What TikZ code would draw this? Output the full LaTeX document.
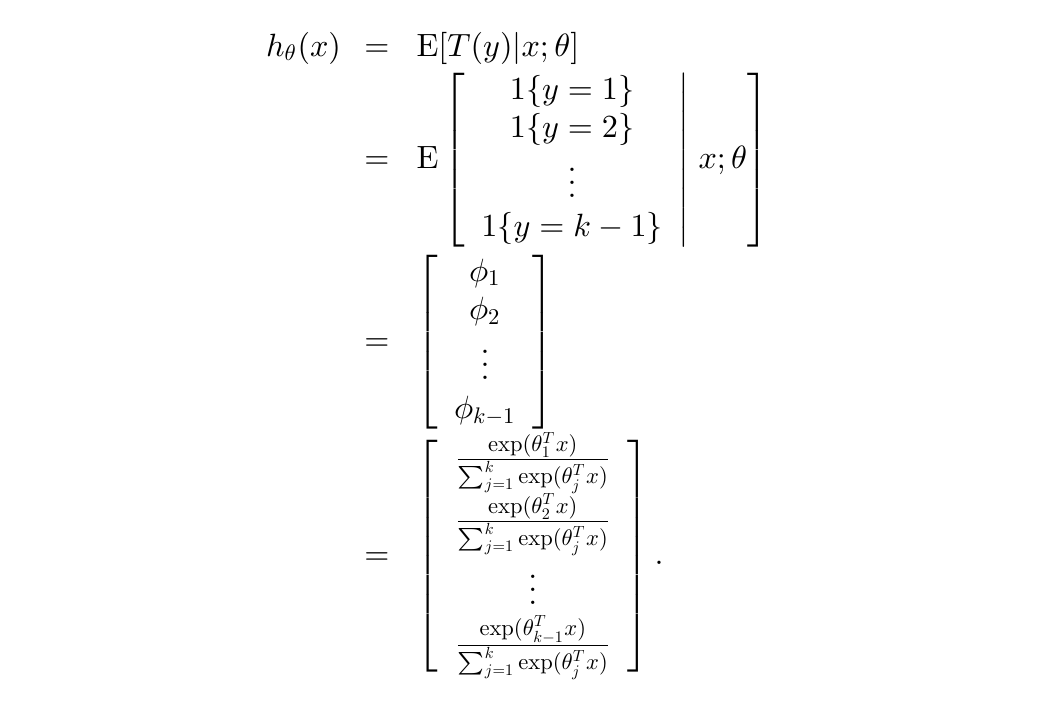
\documentclass[tikz,border=0pt]{standalone}
\usepackage{amsmath}
\usepackage{amssymb}
% scaled cm fonts, no optical sizes
\DeclareFontFamily{OT1}{cmrs}{\hyphenchar\font45}
\DeclareFontShape{OT1}{cmrs}{m}{n}{<-> cmr10}{}
\DeclareFontFamily{OML}{cmms}{\skewchar\font127}
\DeclareFontShape{OML}{cmms}{m}{it}{<-> cmmi10}{}
\DeclareFontFamily{OMS}{cmss}{\skewchar\font48}
\DeclareFontShape{OMS}{cmss}{m}{n}{<-> cmsy10}{}
\DeclareSymbolFont{operators}{OT1}{cmrs}{m}{n}
\DeclareSymbolFont{letters}{OML}{cmms}{m}{it}
\DeclareSymbolFont{symbols}{OMS}{cmss}{m}{n}
\newcommand{\sfrac}[1]{\frac{\exp(\theta_{#1}^T x)}{\sum_{j=1}^k \exp(\theta_j^T x)}}

\begin{document}
\begin{tikzpicture}[x=0.3106pt,y=-0.3106pt, every node/.style={inner sep=0pt,outer sep=0pt}, eqsign/.style={anchor=base}, rhs/.style={anchor=base west}]
  \useasboundingbox (0,0) rectangle (1042,706);
  \node[anchor=base east] (lhs) at (341,56) {$h_\theta(x)$};

  \node[eqsign] (eq1) at (377,56) {$=$};
  \node[rhs] (r1) at (416.5,56) {$\mathrm{E}[T(y)|x;\theta]$};

  \node[eqsign] (eq2) at (377,168) {$=$};
  \node[rhs] (r2) at (416.5,168) {$\mathrm{E}\left[\begin{array}{c} 1\{y=1\}\\ 1\{y=2\}\\ \vdots\\ 1\{y=k-1\}\end{array}\middle|\;x;\theta\right]$};

  \node[eqsign] (eq3) at (377,350) {$=$};
  \node[rhs] (r3) at (416.5,350) {$\left[\begin{array}{c} \phi_1\\ \phi_2\\ \vdots\\ \phi_{k-1}\end{array}\right]$};

  \node[eqsign] (eq4) at (377,564) {$=$};
  \node[rhs] (r4) at (416.5,564) {$\left[\begin{array}{c} \sfrac{1}\\ \sfrac{2}\\ \vdots\\ \sfrac{k-1}\end{array}\right].$};
\end{tikzpicture}
\end{document}
